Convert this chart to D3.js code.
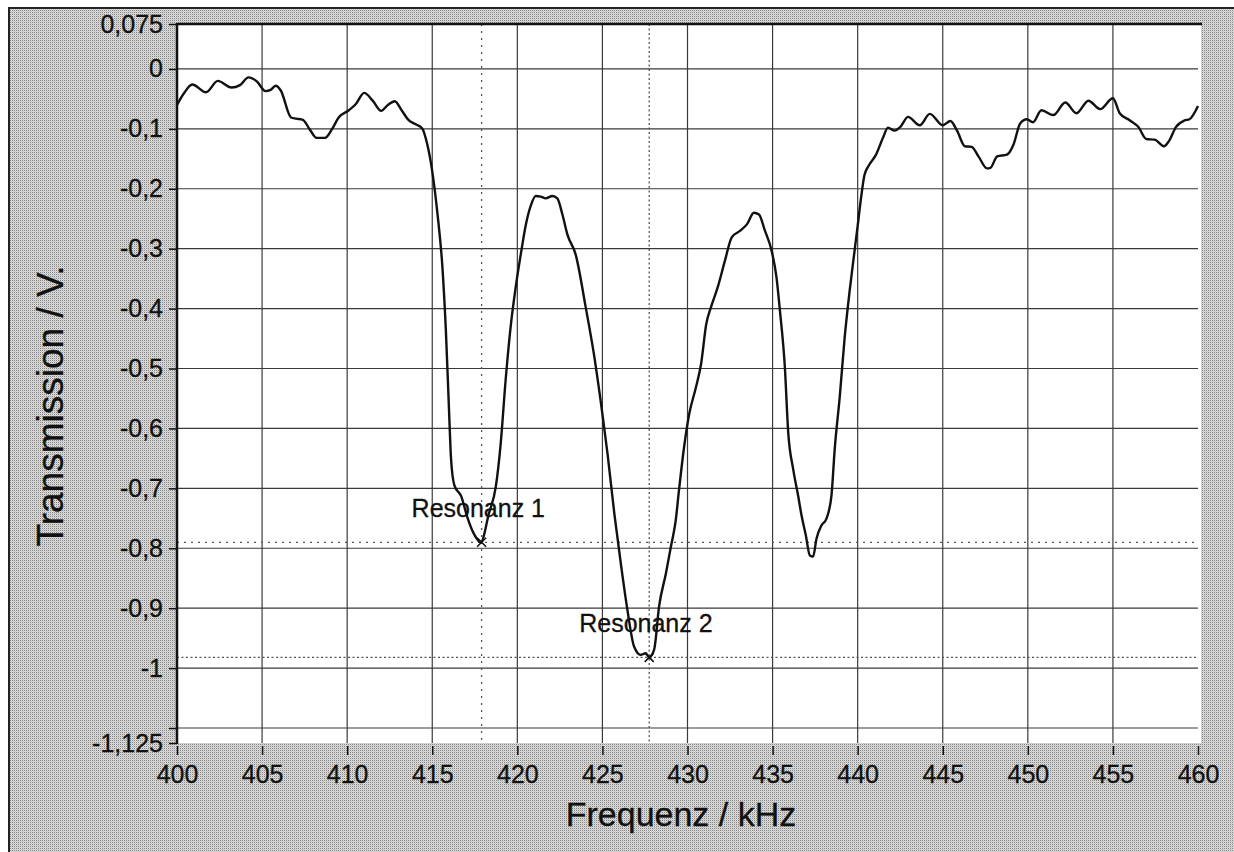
<!DOCTYPE html>
<html>
<head>
<meta charset="utf-8">
<script src="https://cdn.jsdelivr.net/npm/d3@7"></script>
<style>
  html, body { margin: 0; padding: 0; background: #fff; }
  svg { display: block; font-family: "Liberation Sans", Arial, sans-serif; }
</style>
</head>
<body>
<svg id="chart" width="1234" height="852"></svg>
<script>
let freq = [400.0, 400.4, 400.9, 401.7, 402.4, 403.2, 403.7, 404.2, 404.7, 405.2, 405.5, 405.8, 406.1,
    406.7, 407.0, 407.4, 407.8, 408.2, 408.7, 409.1, 409.5, 410.1, 410.5, 411.0, 411.5, 412.0, 412.4,
    412.8, 413.2, 413.6, 414.0, 414.4, 414.7, 415.0, 415.3, 415.6, 415.8, 416.0, 416.1, 416.3, 416.7,
    417.05, 417.45, 417.85, 418.33, 418.73, 419.02, 419.31, 419.6, 419.9, 420.2, 420.5, 420.78, 421.08,
    421.37, 421.67, 422.06, 422.35, 422.65, 422.94, 423.43, 424.02, 424.5, 425.0, 425.3, 425.7, 426.08,
    426.47, 426.86, 427.25, 427.55, 427.75, 428.04, 428.33, 428.73, 429.02, 429.31, 429.5, 429.8, 430.1,
    430.5, 430.8, 431.1, 431.4, 431.8, 432.2, 432.6, 433.1, 433.5, 433.9, 434.2, 434.55, 434.94, 435.23,
    435.43, 435.72, 435.92, 436.21, 436.5, 436.7, 436.95, 437.19, 437.38, 437.58, 437.87, 438.16, 438.46,
    438.65, 438.95, 439.24, 439.53, 439.82, 440.0, 440.2, 440.4, 440.68, 441.08, 441.5, 441.78, 442.17,
    442.5, 442.96, 443.65, 444.24, 445.0, 445.45, 445.84, 446.3, 446.7, 447.1, 447.6, 447.8, 448.2,
    448.77, 449.16, 449.55, 449.94, 450.3, 450.8, 451.5, 452.2, 452.86, 453.56, 454.25, 455.0, 455.4,
    456.0, 456.5, 456.96, 457.45, 458.0, 458.3, 458.7, 459.2, 459.5, 460.0];
let volt = [-0.060, -0.041, -0.026, -0.039, -0.020, -0.031, -0.027, -0.014, -0.021, -0.037, -0.035, -0.028, -0.036,
    -0.081, -0.083, -0.085, -0.101, -0.115, -0.115, -0.101, -0.081, -0.069, -0.059, -0.040, -0.053, -0.070, -0.060,
    -0.054, -0.069, -0.085, -0.092, -0.099, -0.125, -0.171, -0.240, -0.332, -0.436, -0.580, -0.649, -0.695, -0.713,
    -0.747, -0.776, -0.790, -0.742, -0.698, -0.626, -0.520, -0.432, -0.365, -0.310, -0.260, -0.229, -0.212,
    -0.213, -0.216, -0.212, -0.216, -0.243, -0.276, -0.310, -0.398, -0.476, -0.576, -0.642, -0.742, -0.825,
    -0.903, -0.964, -0.978, -0.975, -0.982, -0.969, -0.897, -0.842, -0.798, -0.753, -0.703, -0.631, -0.576,
    -0.531, -0.492, -0.426, -0.396, -0.362, -0.320, -0.281, -0.270, -0.259, -0.240, -0.243, -0.270, -0.303, -0.348,
    -0.403, -0.497, -0.607, -0.668, -0.712, -0.745, -0.778, -0.812, -0.814, -0.784, -0.762, -0.751, -0.712,
    -0.635, -0.546, -0.447, -0.370, -0.303, -0.262, -0.215, -0.177, -0.160, -0.143, -0.114, -0.098, -0.103,
    -0.097, -0.080, -0.094, -0.075, -0.094, -0.087, -0.103, -0.129, -0.130, -0.146, -0.166, -0.165, -0.146,
    -0.143, -0.126, -0.091, -0.084, -0.089, -0.069, -0.077, -0.056, -0.074, -0.053, -0.067, -0.049, -0.074,
    -0.086, -0.097, -0.117, -0.118, -0.129, -0.120, -0.097, -0.086, -0.084, -0.062];

// resonances marked in the picture
let resFreq = [417.9, 427.75];
let resVolt = [-0.79, -0.982];
let resLabel = ["Resonanz 1", "Resonanz 2"];

// ticks
let xTicks = [400, 405, 410, 415, 420, 425, 430, 435, 440, 445, 450, 455, 460];
let xGrid = [405, 410, 415, 420, 425, 430, 435, 440, 445, 450, 455];
let yTicks = [0.075, 0, -0.1, -0.2, -0.3, -0.4, -0.5, -0.6, -0.7, -0.8, -0.9, -1, -1.1, -1.125];
let yTickLabels = ["0,075", "0", "-0,1", "-0,2", "-0,3", "-0,4", "-0,5", "-0,6", "-0,7", "-0,8", "-0,9", "-1", "", "-1,125"];
let yGrid = [0, -0.1, -0.2, -0.3, -0.4, -0.5, -0.6, -0.7, -0.8, -0.9, -1, -1.1];

let svg = d3.select("#chart");
let pLeft = 177, pRight = 1198, pTop = 24, pBottom = 743;

let x = d3.scaleLinear().domain([400, 460]).range([pLeft, pRight]);
let y = d3.scaleLinear().domain([-1.125, 0.075]).range([pBottom, pTop]);

// dithered grey paper
let defs = svg.append("defs");
let pat = defs.append("pattern").attr("id", "dots").attr("width", 2).attr("height", 2)
    .attr("patternUnits", "userSpaceOnUse");
pat.append("rect").attr("width", 2).attr("height", 2).attr("fill", "#dedede");
pat.append("rect").attr("x", 0).attr("y", 0).attr("width", 1).attr("height", 1).attr("fill", "#828282");
pat.append("rect").attr("x", 1).attr("y", 1).attr("width", 1).attr("height", 1).attr("fill", "#c6c6c6");
defs.append("clipPath").attr("id", "clip").append("rect")
    .attr("x", pLeft).attr("y", pTop).attr("width", 1201 - pLeft).attr("height", pBottom - pTop);

svg.append("rect").attr("x", 9).attr("y", 8).attr("width", 1234 - 9).attr("height", 852 - 8).attr("fill", "url(#dots)");
// outer frame (top and left only)
svg.append("line").attr("x1", 8).attr("x2", 1234).attr("y1", 8).attr("y2", 8).attr("stroke", "#222").attr("stroke-width", 2);
svg.append("line").attr("x1", 9).attr("x2", 9).attr("y1", 8).attr("y2", 852).attr("stroke", "#222").attr("stroke-width", 2);

// plot area
svg.append("rect").attr("x", pLeft).attr("y", pTop).attr("width", 1201 - pLeft).attr("height", pBottom - pTop).attr("fill", "#fff");

// grid
let grid = svg.append("g").attr("class", "grid");
grid.selectAll("line.v").data(xGrid).enter().append("line").attr("class", "v")
    .attr("x1", d => x(d)).attr("x2", d => x(d)).attr("y1", pTop).attr("y2", pBottom)
    .attr("stroke", "#3a3a3a").attr("stroke-width", 1.2);
grid.selectAll("line.h").data(yGrid).enter().append("line").attr("class", "h")
    .attr("x1", pLeft).attr("x2", pRight).attr("y1", d => y(d)).attr("y2", d => y(d))
    .attr("stroke", "#3a3a3a").attr("stroke-width", 1.2);

// resonance crosshairs (second one is drawn with denser dots)
let res = resFreq.map((f, i) => ({f: f, v: resVolt[i], label: resLabel[i], i: i}));
let dash = i => i === 0 ? "2,5" : "2,2.5";
let rg = svg.append("g").attr("clip-path", "url(#clip)");
rg.selectAll("line.rv").data(res).enter().append("line").attr("class", "rv")
    .attr("x1", d => x(d.f)).attr("x2", d => x(d.f)).attr("y1", pTop).attr("y2", pBottom)
    .attr("stroke", "#555").attr("stroke-width", 1.3).attr("stroke-dasharray", d => dash(d.i));
rg.selectAll("line.rh").data(res).enter().append("line").attr("class", "rh")
    .attr("x1", pLeft).attr("x2", pRight).attr("y1", d => y(d.v)).attr("y2", d => y(d.v))
    .attr("stroke", "#555").attr("stroke-width", 1.3).attr("stroke-dasharray", d => dash(d.i));

// curve
let line = d3.line().x((d, i) => x(d)).y((d, i) => y(volt[i])).curve(d3.curveMonotoneX);
svg.append("path").datum(freq).attr("d", line).attr("clip-path", "url(#clip)")
    .attr("fill", "none").attr("stroke", "#111").attr("stroke-width", 2.4).attr("stroke-linejoin", "round");

// markers and labels
let mk = svg.append("g");
res.forEach(d => {
    let cx = x(d.f), cy = y(d.v), s = 4.5;
    mk.append("path").attr("d", `M${cx - s},${cy - s}L${cx + s},${cy + s}M${cx - s},${cy + s}L${cx + s},${cy - s}`)
        .attr("stroke", "#111").attr("stroke-width", 1.6);
    mk.append("text").attr("x", cx - 70).attr("y", cy - 25).attr("font-size", 25).attr("fill", "#111")
        .attr("stroke", "#111").attr("stroke-width", 0.3).text(d.label);
});

// axes lines (thick top and left)
svg.append("line").attr("x1", pLeft).attr("x2", 1202).attr("y1", pTop).attr("y2", pTop).attr("stroke", "#111").attr("stroke-width", 2.5);
svg.append("line").attr("x1", pLeft).attr("x2", pLeft).attr("y1", pTop - 1).attr("y2", pBottom + 1).attr("stroke", "#111").attr("stroke-width", 2.5);

let yAxis = d3.axisLeft(y).tickValues(yTicks).tickSize(8).tickPadding(6)
    .tickFormat((d, i) => yTickLabels[i]);
let ya = svg.append("g").attr("transform", "translate(" + pLeft + ",0)").call(yAxis);
ya.select(".domain").remove();
ya.selectAll("line").attr("stroke", "#111").attr("stroke-width", 1.5);
ya.selectAll("text").attr("font-size", 25).attr("fill", "#111").attr("stroke", "#111").attr("stroke-width", 0.3)
    .attr("font-family", "Liberation Sans, Arial, sans-serif");

let xAxis = d3.axisBottom(x).tickValues(xTicks).tickSize(9).tickPadding(10).tickFormat(d => d);
let xa = svg.append("g").attr("transform", "translate(0," + (pBottom + 3) + ")").call(xAxis);
xa.select(".domain").remove();
xa.selectAll("line").attr("stroke", "#111").attr("stroke-width", 1.5);
xa.selectAll("text").attr("font-size", 25).attr("fill", "#111").attr("stroke", "#111").attr("stroke-width", 0.3)
    .attr("font-family", "Liberation Sans, Arial, sans-serif");

// titles
svg.append("text").attr("transform", "translate(63," + 406 + ") rotate(-90)")
    .attr("text-anchor", "middle").attr("font-size", 37).attr("fill", "#111").attr("stroke", "#111").attr("stroke-width", 0.3)
    .text("Transmission / V.");
svg.append("text").attr("x", 681).attr("y", 826)
    .attr("text-anchor", "middle").attr("font-size", 34).attr("fill", "#111").attr("stroke", "#111").attr("stroke-width", 0.3)
    .text("Frequenz / kHz");
</script>
</body>
</html>
